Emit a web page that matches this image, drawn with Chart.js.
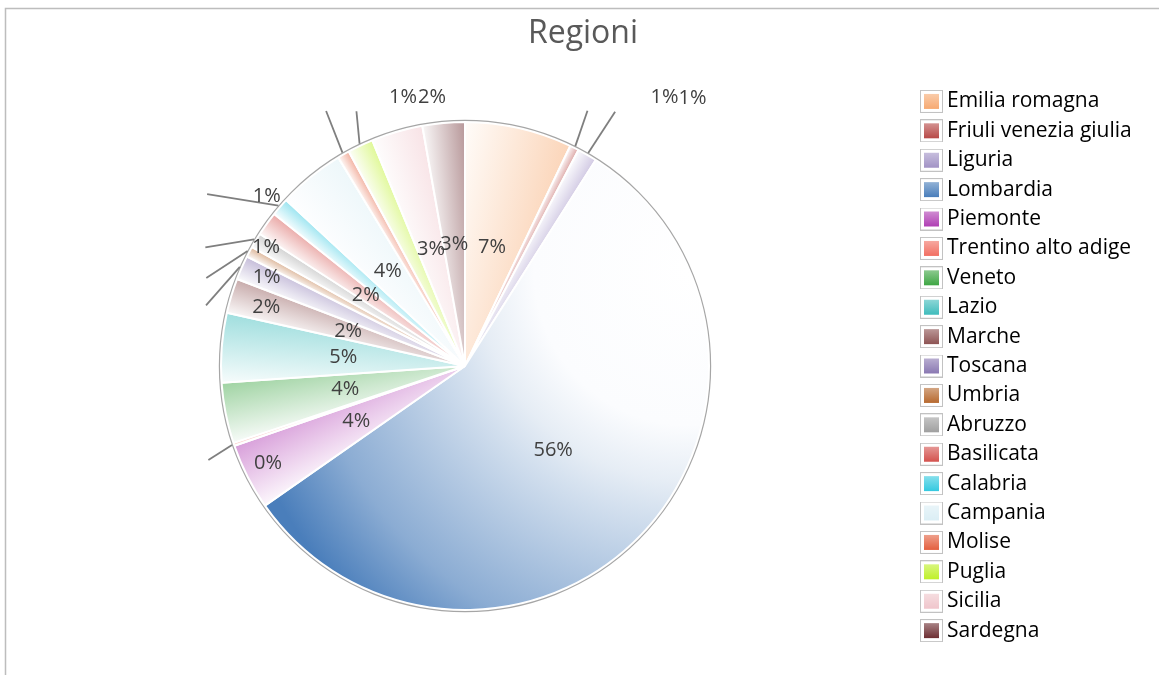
<!DOCTYPE html>
<html>
<head>
<meta charset="utf-8">
<script src="https://cdn.jsdelivr.net/npm/chart.js@4.4.0/dist/chart.umd.min.js"></script>
<style>
  html, body { margin: 0; padding: 0; background: #fff; }
  #pieCanvas { display: block; }
</style>
</head>
<body>
<canvas id="pieCanvas" width="1159" height="675"></canvas>
<script>
/* ── data ── */
const regions = [
    'Emilia romagna', 'Friuli venezia giulia', 'Liguria', 'Lombardia', 'Piemonte',
    'Trentino alto adige', 'Veneto', 'Lazio', 'Marche', 'Toscana', 'Umbria',
    'Abruzzo', 'Basilicata', 'Calabria', 'Campania', 'Molise', 'Puglia',
    'Sicilia', 'Sardegna',
];
const shares = [
    7.1, 0.6, 1.3, 56.3, 4.4,
    0.2, 4.0, 4.6, 2.3, 1.6, 0.7,
    1.0, 1.6, 1.2, 4.4, 0.8, 1.7,
    3.4, 2.8,
];
const regionColors = [
    '#f7aa72', '#b84a48', '#a293c6', '#4a7ebb', '#b03fb4',
    '#f26f62', '#3fa744', '#3fbcbc', '#8e5454', '#8a78b2', '#b86a30',
    '#a0a0a0', '#d4524e', '#35c9e0', '#dbeef5', '#e4603f', '#bff02a',
    '#f0c6cc', '#6e2f33',
];

/* label placement: null = inside, else offsets (deg from slice middle, radius factor) */
const labelPlace = [
    null,
    { at: [10.0, 1.37], line: [-1.0, 1.16] },
    { at: [10.3, 1.44], line: [0.5, 1.21] },
    null, null,
    { at: [-7.5, 0.90], line: [-1.4, 1.12] },
    null, null, null,
    { at: [-7.2, 0.85], line: [-10.6, 1.09] },
    { at: [-3.9, 0.89], line: [-9.1, 1.12] },
    { at: [-0.1, 0.95], line: [-6.4, 1.17] },
    null,
    { at: [-0.1, 1.07], line: [-7.0, 1.27] },
    null,
    { at: [16.9, 1.13], line: [1.3, 1.19] },
    { at: [18.4, 1.11], line: [2.3, 1.135] },
    null, null,
];

const PIE_R   = 244;
const FONT    = "'Open Sans', sans-serif";
const total   = shares.reduce((a, b) => a + b, 0);

function mix(hex, t) {
    const n = parseInt(hex.slice(1), 16);
    const ch = c => Math.round(255 + (c - 255) * t);
    return `rgb(${ch(n >> 16 & 255)},${ch(n >> 8 & 255)},${ch(n & 255)})`;
}

function sliceAngles(i) {
    let start = 0;
    for (let k = 0; k < i; k++) start += shares[k];
    const a0 = start / total * 2 * Math.PI - Math.PI / 2;
    const a1 = (start + shares[i]) / total * 2 * Math.PI - Math.PI / 2;
    return [a0, a1];
}

function sliceFill(ctx) {
    const chart = ctx.chart;
    const area  = chart.chartArea;
    const col   = regionColors[ctx.dataIndex];
    if (!area) return col;
    const cx = (area.left + area.right) / 2;
    const cy = (area.top + area.bottom) / 2;
    const [a0, a1] = sliceAngles(ctx.dataIndex);
    const c = chart.ctx;

    if (a1 - a0 > Math.PI / 2) {
        // big slice: light spot on the rim, darkening towards the far edge
        const a = a0 + 0.17 * (a1 - a0);
        const hx = cx + PIE_R * Math.cos(a), hy = cy + PIE_R * Math.sin(a);
        const g = c.createRadialGradient(hx, hy, 0, hx, hy, 1.93 * PIE_R);
        g.addColorStop(0,    mix(col, 0));
        g.addColorStop(0.33, mix(col, 0.02));
        g.addColorStop(0.45, mix(col, 0.14));
        g.addColorStop(0.53, mix(col, 0.25));
        g.addColorStop(0.83, mix(col, 0.64));
        g.addColorStop(1,    mix(col, 1));
        return g;
    }
    const g = c.createLinearGradient(
        cx + PIE_R * Math.cos(a0), cy + PIE_R * Math.sin(a0),
        cx + PIE_R * Math.cos(a1), cy + PIE_R * Math.sin(a1));
    g.addColorStop(0, mix(col, 0.04));
    g.addColorStop(1, mix(col, 0.5));
    return g;
}

function legendSwatch(hex) {
    const s = document.createElement('canvas');
    s.width = 23; s.height = 23;
    const g = s.getContext('2d');
    g.strokeStyle = '#c2c2c2';
    g.lineWidth = 1;
    g.strokeRect(0.5, 0.5, 22, 22);
    const grad = g.createLinearGradient(0, 4, 0, 19);
    grad.addColorStop(0, mix(hex, 0.6));
    grad.addColorStop(1, hex);
    g.fillStyle = grad;
    g.fillRect(4, 4, 15, 15);
    return s;
}

/* layout numbers derived from the legend text width */
const LEG_FONT = 21, LEG_PAD = 8.4, LEG_BOX = 10;
const measure = document.createElement('canvas').getContext('2d');
measure.font = `${LEG_FONT}px ${FONT}`;
const maxText   = Math.max(...regions.map(r => measure.measureText(r).width));
const legWidth  = LEG_PAD + LEG_BOX + LEG_FONT / 2 + maxText + 8;
const legLeft   = 928.5 - LEG_PAD;
const padRight  = 1159 - legLeft - legWidth;
const padLeft   = 2 * 466 - legLeft;

const framePlugin = {
    id: 'frame',
    beforeDraw(chart) {
        const c = chart.ctx;
        c.save();
        c.fillStyle = '#fff';
        c.fillRect(0, 0, chart.width, chart.height);
        c.strokeStyle = '#bdbdbd';
        c.lineWidth = 1.5;
        c.beginPath();
        c.moveTo(5.5, chart.height);
        c.lineTo(5.5, 8.5);
        c.lineTo(chart.width, 8.5);
        c.stroke();
        c.restore();
    },
    afterLayout(chart) {
        // centre the title over the whole frame, not the padded area
        const t = chart.titleBlock;
        if (t) { t.left = 0; t.right = 1166; t.width = 1166; }
    },
};

const labelPlugin = {
    id: 'sliceLabels',
    afterDatasetsDraw(chart) {
        const meta = chart.getDatasetMeta(0);
        const c = chart.ctx;
        const first = meta.data[0];
        const cx = first.x, cy = first.y, R = first.outerRadius;

        c.save();
        // thin outline round the pie
        c.strokeStyle = '#a6a6a6';
        c.lineWidth = 1.2;
        c.beginPath();
        c.arc(cx, cy, R + 1.6, 0, 2 * Math.PI);
        c.stroke();

        c.font = `20px ${FONT}`;
        c.fillStyle = '#404040';
        c.textAlign = 'center';
        c.textBaseline = 'middle';
        const deg = Math.PI / 180;

        meta.data.forEach((arc, i) => {
            const mid  = (arc.startAngle + arc.endAngle) / 2;
            const text = Math.round(shares[i] / total * 100 + 1e-9) + '%';
            const p    = labelPlace[i];
            if (!p) {
                c.fillText(text, cx + 0.5 * R * Math.cos(mid), cy + 0.5 * R * Math.sin(mid));
                return;
            }
            const la = mid + p.line[0] * deg;
            c.strokeStyle = '#7f7f7f';
            c.lineWidth = 1.8;
            c.beginPath();
            c.moveTo(cx + (R + 2) * Math.cos(mid), cy + (R + 2) * Math.sin(mid));
            c.lineTo(cx + p.line[1] * R * Math.cos(la), cy + p.line[1] * R * Math.sin(la));
            c.stroke();
            const ta = mid + p.at[0] * deg;
            c.fillText(text, cx + p.at[1] * R * Math.cos(ta), cy + p.at[1] * R * Math.sin(ta));
        });
        c.restore();
    },
};

new Chart(document.getElementById('pieCanvas').getContext('2d'), {
    type: 'pie',
    data: {
        labels: regions,
        datasets: [{
            data: shares,
            backgroundColor: sliceFill,
            borderColor: '#ffffff',
            borderWidth: 2,
            radius: PIE_R,
        }],
    },
    options: {
        responsive: false,
        animation: false,
        events: [],
        layout: { padding: { left: padLeft, right: padRight, top: 0, bottom: 25 } },
        plugins: {
            title: {
                display: true,
                text: 'Regioni',
                color: '#595959',
                font: { family: FONT, size: 32, weight: 'normal' },
                padding: { top: 15, bottom: 28.6 },
            },
            legend: {
                position: 'right',
                align: 'center',
                fullSize: false,
                labels: {
                    usePointStyle: true,
                    pointStyleWidth: LEG_BOX,
                    padding: LEG_PAD,
                    color: '#505050',
                    font: { family: FONT, size: LEG_FONT },
                    generateLabels: () => regions.map((r, i) => ({
                        text: r,
                        pointStyle: legendSwatch(regionColors[i]),
                        fillStyle: regionColors[i],
                        strokeStyle: '#c2c2c2',
                        lineWidth: 0,
                        hidden: false,
                        index: i,
                    })),
                },
            },
            tooltip: { enabled: false },
        },
    },
    plugins: [framePlugin, labelPlugin],
});
</script>
</body>
</html>
